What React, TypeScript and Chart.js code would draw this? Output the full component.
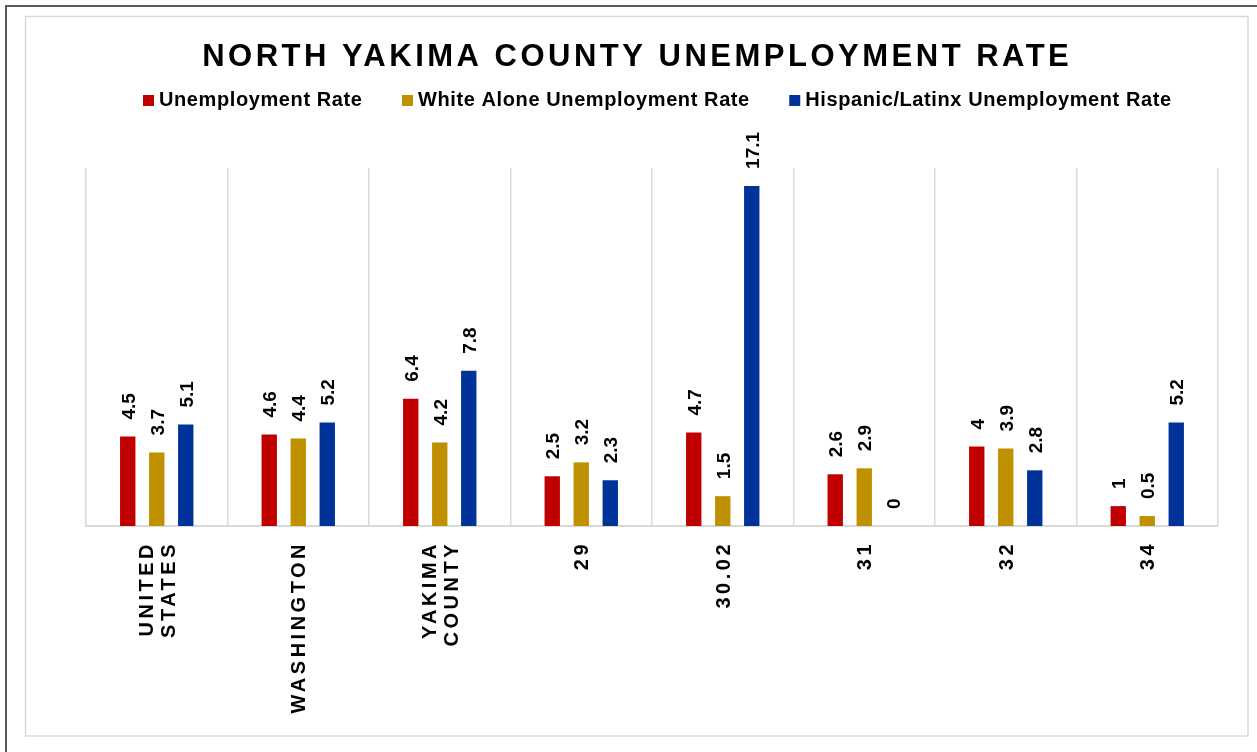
import React, { useEffect, useRef } from "react";
import { Chart, registerables } from "chart.js";

Chart.register(...registerables);

const TITLE = "NORTH YAKIMA COUNTY UNEMPLOYMENT RATE";
const categories: string[][] = [
  ["UNITED", "STATES"],
  ["WASHINGTON"],
  ["YAKIMA", "COUNTY"],
  ["29"],
  ["30.02"],
  ["31"],
  ["32"],
  ["34"],
];
const seriesNames = [
  "Unemployment Rate",
  "White Alone Unemployment Rate",
  "Hispanic/Latinx Unemployment Rate",
];
const unemploymentRate = [4.5, 4.6, 6.4, 2.5, 4.7, 2.6, 4, 1];
const whiteAloneRate = [3.7, 4.4, 4.2, 3.2, 1.5, 2.9, 3.9, 0.5];
const hispanicLatinxRate = [5.1, 5.2, 7.8, 2.3, 17.1, 0, 2.8, 5.2];
const seriesColors = ["#C00000", "#BF9000", "#003399"];
const Y_MIN = 0;
const Y_MAX = 18;

const FONT = '"Liberation Sans", Arial, Helvetica, sans-serif';

const decorPlugin = {
  id: "decor",
  beforeDraw(chart: any) {
    const ctx = chart.ctx as CanvasRenderingContext2D;
    ctx.save();
    ctx.fillStyle = "#ffffff";
    ctx.fillRect(0, 0, chart.width, chart.height);
    // inner light frame
    ctx.strokeStyle = "#d9d9d9";
    ctx.lineWidth = 1.5;
    ctx.strokeRect(25.5, 16.5, 1222.5, 719.5);
    // outer dark frame (left/top visible)
    ctx.strokeStyle = "#595959";
    ctx.lineWidth = 2;
    ctx.beginPath();
    ctx.moveTo(6, chart.height + 5);
    ctx.lineTo(6, 6);
    ctx.lineTo(chart.width + 5, 6);
    ctx.stroke();

    // title
    ctx.fillStyle = "#000000";
    ctx.font = `bold 31px ${FONT}`;
    (ctx as any).letterSpacing = "3.5px";
    ctx.textAlign = "left";
    ctx.textBaseline = "alphabetic";
    const tw = ctx.measureText(TITLE).width - 3.5;
    ctx.fillText(TITLE, 635.5 - tw / 2, 66);

    // legend
    ctx.font = `bold 20px ${FONT}`;
    (ctx as any).letterSpacing = "0.6px";
    let x = 143;
    seriesNames.forEach((name, i) => {
      ctx.fillStyle = seriesColors[i];
      ctx.fillRect(x, 95, 11, 11);
      x += 16;
      ctx.fillStyle = "#000000";
      ctx.fillText(name, x, 106);
      x += ctx.measureText(name).width - 0.6 + 40;
    });
    ctx.restore();
  },
  afterDatasetsDraw(chart: any) {
    const ctx = chart.ctx as CanvasRenderingContext2D;
    // data labels
    ctx.save();
    ctx.fillStyle = "#000000";
    ctx.font = `bold 19px ${FONT}`;
    (ctx as any).letterSpacing = "0px";
    ctx.textAlign = "left";
    ctx.textBaseline = "alphabetic";
    chart.data.datasets.forEach((ds: any, di: number) => {
      const meta = chart.getDatasetMeta(di);
      meta.data.forEach((el: any, i: number) => {
        const v = ds.data[i];
        ctx.save();
        ctx.translate(el.x, el.y - 17);
        ctx.rotate(-Math.PI / 2);
        ctx.fillText(String(v), 0, 7);
        ctx.restore();
      });
    });
    ctx.restore();

    // category tick labels
    const xs = chart.scales.x;
    const base = chart.chartArea.bottom + 15;
    ctx.save();
    ctx.fillStyle = "#000000";
    ctx.font = `bold 20px ${FONT}`;
    (ctx as any).letterSpacing = "3.5px";
    ctx.textAlign = "right";
    ctx.textBaseline = "alphabetic";
    categories.forEach((lines, i) => {
      const cx = xs.getPixelForValue(i);
      ctx.save();
      ctx.translate(cx, base);
      ctx.rotate(-Math.PI / 2);
      lines.forEach((ln, j) => {
        const off = (j - (lines.length - 1) / 2) * 22.5 + 7.2;
        ctx.fillText(ln, 0, off);
      });
      ctx.restore();
    });
    ctx.restore();
  },
};

export default function App() {
  const ref = useRef<HTMLCanvasElement | null>(null);
  useEffect(() => {
    if (!ref.current) return;
    const seriesData = [unemploymentRate, whiteAloneRate, hispanicLatinxRate];
    const chart = new Chart(ref.current, {
      type: "bar",
      data: {
        labels: categories as any,
        datasets: seriesNames.map((name, i) => ({
          label: name,
          data: seriesData[i],
          backgroundColor: seriesColors[i],
          borderWidth: 0,
          categoryPercentage: 0.615,
          barPercentage: 0.53,
        })),
      },
      options: {
        animation: false,
        responsive: false,
        devicePixelRatio: 1,
        layout: { padding: { left: 86, right: 39, top: 168, bottom: 226 } },
        plugins: {
          legend: { display: false },
          title: { display: false },
          tooltip: { enabled: false },
        },
        scales: {
          x: {
            grid: { color: "#d9d9d9", lineWidth: 1.5, drawTicks: false, offset: true },
            border: { color: "#d9d9d9", width: 2 },
            ticks: { display: false },
          },
          y: { display: false, min: Y_MIN, max: Y_MAX },
        },
      },
      plugins: [decorPlugin],
    } as any);
    return () => chart.destroy();
  }, []);
  return (
    <div style={{ position: "absolute", left: 0, top: 0, width: 1257, height: 752 }}>
      <canvas ref={ref} width={1257} height={752} style={{ display: "block", width: 1257, height: 752 }} />
    </div>
  );
}
